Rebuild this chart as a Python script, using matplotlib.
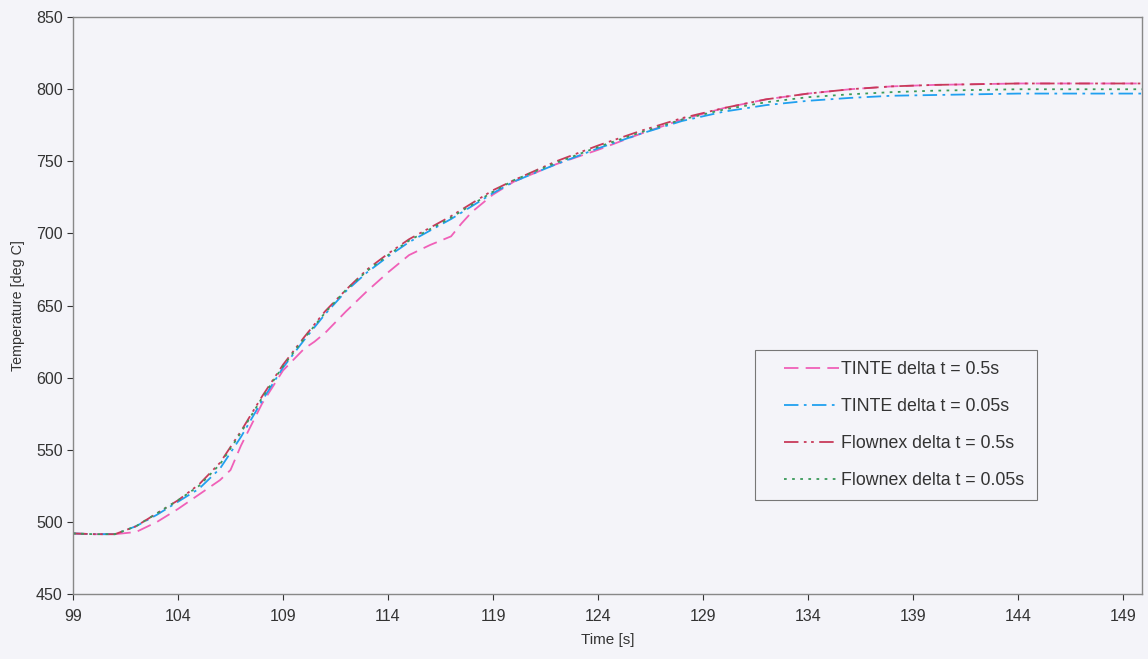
import matplotlib
matplotlib.use("Agg")
import matplotlib.pyplot as plt
from matplotlib.patches import Rectangle

plt.rcParams["font.family"] = ["Liberation Sans", "DejaVu Sans"]

# time axis [s]
t = [99, 100, 101, 102, 103, 104, 105, 106, 107, 108, 109, 110, 111, 112, 113,
     114, 115, 116, 117, 118, 119, 120, 122, 124, 126, 128, 130, 132, 134, 136,
     138, 140, 142, 144, 146, 148, 150]

tinte_05 = [492, 491.5, 491.5, 493, 500, 509, 519, 529, 536, 553, 582, 605, 620,
            625, 631, 646, 660, 673, 685, 692, 698, 707, 715, 727, 736, 748, 758,
            769, 779, 787, 793, 797, 800, 802, 803, 803.5, 804, 804, 804, 804]
t_tinte_05 = [99, 100, 101, 102, 103, 104, 105, 106, 106.5, 107, 108, 109, 110,
              110.5, 111, 112, 113, 114, 115, 116, 117, 117.5, 118, 119, 120, 122,
              124, 126, 128, 130, 132, 134, 136, 138, 140, 142, 144, 146, 148, 150]

tinte_005 = [492, 491.5, 491.5, 497, 505, 514, 523, 537, 559, 584, 607, 626, 644,
             660, 673, 684, 694, 702, 710, 719, 728, 736, 748, 759, 769, 778, 784.5,
             789, 792, 794, 795.5, 796, 796.5, 797, 797, 797, 797]

flownex_05 = [492, 491.5, 491.5, 497, 506, 515, 526, 541, 563, 587, 609, 628, 646,
              661, 675, 686, 696, 704, 712, 721, 730, 737, 750, 761, 771, 780, 787,
              793, 797, 800, 802, 803, 803.5, 804, 804, 804, 804]

flownex_005 = [492, 491.5, 491.5, 497, 506, 515, 525, 540, 562, 586, 608, 627, 645,
               661, 674, 685, 695, 703, 711, 720, 729, 737, 749, 760, 770, 779, 786,
               791, 794.5, 796.5, 798, 799, 799.5, 800, 800, 800, 800]

labels = ["TINTE delta t = 0.5s", "TINTE delta t = 0.05s",
          "Flownex delta t = 0.5s", "Flownex delta t = 0.05s"]

bg = "#f4f4f9"
fig = plt.figure(figsize=(11.48, 6.59), dpi=100, facecolor=bg)
ax = fig.add_axes([0.0636, 0.0986, 0.9312, 0.8754], facecolor=bg)

ax.plot(t_tinte_05, tinte_05, color="#f060b8", lw=1.3, dashes=(8, 4), label=labels[0])
ax.plot(t, tinte_005, color="#20a0f0", lw=1.3, dashes=(8, 3, 1.5, 3), label=labels[1])
ax.plot(t, flownex_05, color="#c83a5a", lw=1.3, dashes=(8, 3, 1.5, 2.5, 1.5, 3), label=labels[2])
ax.plot(t, flownex_005, color="#3a9a5a", lw=1.3, dashes=(1.5, 3), label=labels[3])

ax.set_xlim(99, 149.9)
ax.set_ylim(450, 850)
ax.set_xticks(range(99, 150, 5))
ax.set_yticks(range(450, 851, 50))
ax.tick_params(labelsize=11.5, colors="#333333", length=4, width=0.8, direction="out")
ax.tick_params(axis="x", pad=7)
for s in ax.spines.values():
    s.set_color("#888888")
    s.set_linewidth(1.0)

ax.set_xlabel("Time [s]", fontsize=11, color="#333333", labelpad=6)
ax.set_ylabel("Temperature [deg C]", fontsize=10.3, color="#333333", labelpad=8)

# legend box drawn separately (wider side padding than matplotlib allows)
ax.add_patch(Rectangle((0.638, 0.163), 0.264, 0.26, transform=ax.transAxes,
                       facecolor=bg, edgecolor="#777777", lw=0.8, zorder=4))
leg = ax.legend(loc="center", bbox_to_anchor=(0.777, 0.293), fontsize=12.8,
                frameon=False, handlelength=3.1, handletextpad=0.1,
                labelspacing=1.12, borderpad=0.5, borderaxespad=0)
leg.set_zorder(5)
for txt in leg.get_texts():
    txt.set_color("#333333")

fig.savefig("out.png", dpi=100, facecolor=bg)
